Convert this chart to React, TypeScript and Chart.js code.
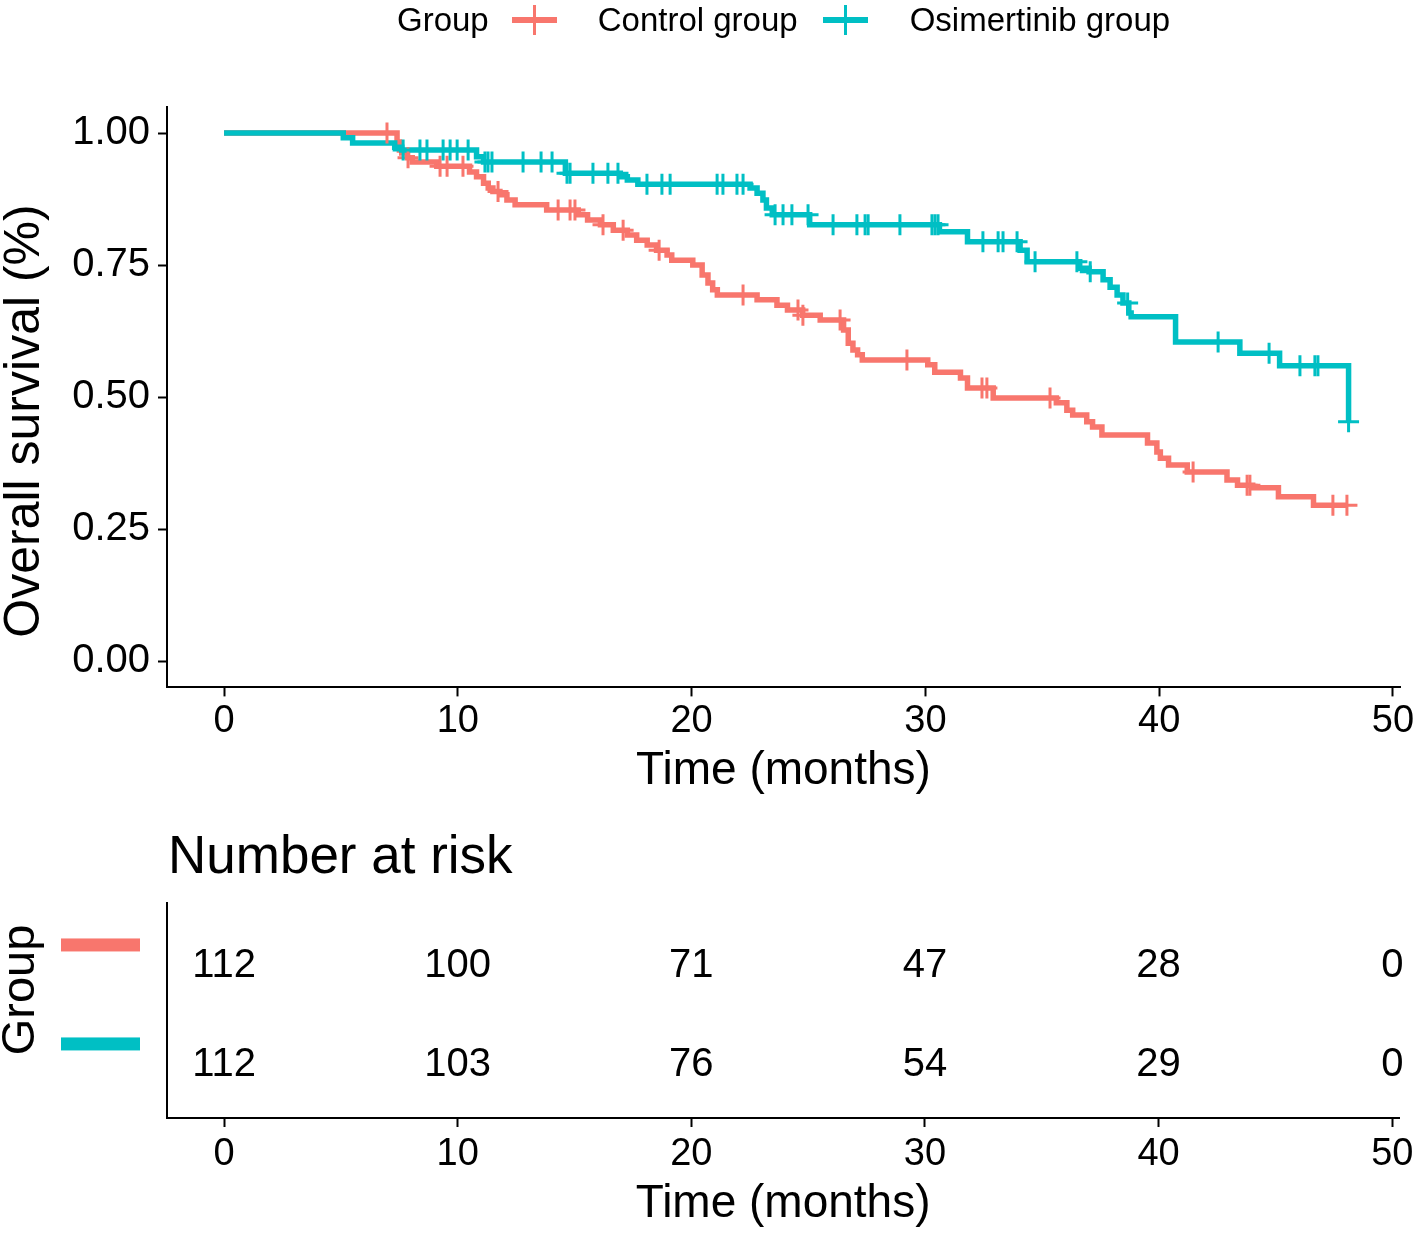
import React, { useEffect, useRef } from 'react';
import { Chart, registerables } from 'chart.js';

Chart.register(...registerables);

const FONT = "'Liberation Sans', Arial, Helvetica, sans-serif";

const GROUPS = ['Control group', 'Osimertinib group'];
const COLORS = ['#F8766D', '#00BFC4'];

// Control group: event times (months) and survival after each step
const CONTROL_T = [0, 7.4, 7.5, 7.6, 7.85, 8.05, 9.1, 10.5, 10.8, 11.1, 11.3, 11.5, 11.8, 12.1, 12.45, 13.8, 15.15, 15.55, 16.1, 16.65, 17.25, 17.65, 18.1, 18.5, 18.95, 19.15, 20.05, 20.45, 20.7, 20.9, 21.1, 22.8, 23.65, 24.1, 24.75, 25.5, 26.5, 26.7, 26.9, 27.1, 27.3, 30.1, 30.4, 31.5, 31.8, 32.9, 35.6, 36.05, 36.3, 36.9, 37.15, 37.55, 39.5, 39.9, 40.05, 40.4, 41.2, 42.9, 43.35, 44.0, 45.1, 46.6, 48.03];
const CONTROL_S = [1, 0.983, 0.968, 0.962, 0.953, 0.945, 0.937, 0.926, 0.917, 0.905, 0.896, 0.889, 0.883, 0.873, 0.864, 0.854, 0.845, 0.835, 0.826, 0.816, 0.807, 0.797, 0.788, 0.778, 0.769, 0.759, 0.75, 0.731, 0.716, 0.703, 0.693, 0.684, 0.674, 0.665, 0.655, 0.646, 0.627, 0.602, 0.589, 0.58, 0.57, 0.561, 0.547, 0.536, 0.517, 0.498, 0.489, 0.475, 0.466, 0.453, 0.443, 0.428, 0.413, 0.396, 0.384, 0.371, 0.358, 0.343, 0.333, 0.328, 0.311, 0.295, 0.295];
const CONTROL_CENSOR = [6.97, 7.87, 9.24, 9.54, 10.22, 11.72, 14.29, 14.8, 15.01, 16.21, 17.07, 18.61, 22.2, 24.55, 24.76, 26.35, 29.21, 32.42, 32.63, 35.33, 41.45, 43.76, 43.88, 47.43, 48.03];

// Osimertinib group
const OSI_T = [0, 5.1, 5.5, 7.3, 7.6, 10.8, 11.1, 14.6, 16.95, 17.25, 17.7, 22.5, 22.8, 23.05, 23.2, 23.45, 25.05, 30.6, 31.8, 34.05, 34.35, 36.6, 37.0, 37.6, 37.9, 38.2, 38.45, 38.7, 38.8, 40.7, 43.45, 45.15, 48.1];
const OSI_S = [1, 0.991, 0.981, 0.973, 0.968, 0.955, 0.945, 0.924, 0.917, 0.911, 0.903, 0.896, 0.886, 0.873, 0.858, 0.845, 0.826, 0.813, 0.794, 0.778, 0.756, 0.744, 0.737, 0.722, 0.708, 0.693, 0.678, 0.659, 0.652, 0.604, 0.583, 0.559, 0.453];
const OSI_CENSOR = [7.66, 8.38, 8.68, 9.37, 9.67, 9.97, 10.44, 11.16, 11.29, 11.46, 12.79, 13.56, 14.03, 14.67, 14.8, 15.78, 16.42, 16.85, 18.09, 18.73, 19.08, 21.09, 21.34, 21.94, 22.2, 23.57, 23.91, 24.29, 24.98, 26.05, 27.07, 27.42, 27.55, 28.91, 30.28, 30.41, 30.54, 32.46, 33.11, 33.32, 33.92, 34.69, 36.48, 37.05, 38.65, 42.52, 44.7, 46.02, 46.66, 46.79, 48.1];

const X_TICKS = [0, 10, 20, 30, 40, 50];
const Y_TICKS = [0, 0.25, 0.5, 0.75, 1];
const RISK_TIMES = [0, 10, 20, 30, 40, 50];
const RISK_CONTROL = [112, 100, 71, 47, 28, 0];
const RISK_OSI = [112, 103, 76, 54, 29, 0];

function survAt(ts: number[], ss: number[], t: number) {
  let s = ss[0];
  for (let i = 0; i < ts.length; i++) if (ts[i] <= t) s = ss[i];
  return s;
}

const axisGrid = (ticks: boolean) => ({
  display: true,
  drawOnChartArea: false,
  drawTicks: ticks,
  tickLength: 9,
  tickWidth: 2,
  tickColor: '#000',
  color: '#000',
});
const axisBorder = { display: true, color: '#000', width: 2 };

type TextItem = { text: string; x: number; y: number; size: number; rot?: number; align?: CanvasTextAlign };
const textPlugin = (id: string, items: TextItem[]) => ({
  id,
  afterDraw(chart: any) {
    const ctx = chart.ctx as CanvasRenderingContext2D;
    items.forEach((it) => {
      ctx.save();
      ctx.translate(it.x, it.y);
      ctx.rotate(it.rot || 0);
      ctx.font = `${it.size}px ${FONT}`;
      ctx.fillStyle = '#000';
      ctx.textAlign = it.align || 'center';
      ctx.textBaseline = 'middle';
      ctx.fillText(it.text, 0, 0);
      ctx.restore();
    });
  },
});

const riskPlugin = {
  id: 'riskLabels',
  afterDatasetsDraw(chart: any) {
    const ctx = chart.ctx as CanvasRenderingContext2D;
    ctx.save();
    ctx.font = `40px ${FONT}`;
    ctx.fillStyle = '#000';
    ctx.textAlign = 'center';
    ctx.textBaseline = 'middle';
    chart.data.datasets.forEach((ds: any, di: number) => {
      const meta = chart.getDatasetMeta(di);
      meta.data.forEach((el: any, i: number) => {
        ctx.fillText(String(ds.data[i].n), el.x, el.y);
      });
    });
    const ys = chart.scales.y;
    COLORS.forEach((c, i) => {
      const py = ys.getPixelForValue(i + 1) - 21;
      ctx.fillStyle = c;
      ctx.fillRect(61, py - 6.5, 79, 13);
    });
    ctx.restore();
  },
};

function LegendIcon({ color }: { color: string }) {
  return (
    <div style={{ position: 'relative', width: 45, height: 40 }}>
      <div style={{ position: 'absolute', left: 0, top: 17, width: 45, height: 6, background: color }} />
      <div style={{ position: 'absolute', left: 21, top: 5, width: 3, height: 30, background: color }} />
    </div>
  );
}

export default function App() {
  const kmRef = useRef<HTMLCanvasElement>(null);
  const riskRef = useRef<HTMLCanvasElement>(null);

  useEffect(() => {
    document.body.style.margin = '0';
    const km = new Chart(kmRef.current!, {
      type: 'line',
      data: {
        datasets: [
          {
            label: GROUPS[0],
            data: CONTROL_T.map((t, i) => ({ x: t, y: CONTROL_S[i] })),
            borderColor: COLORS[0],
            borderWidth: 5.5,
            stepped: true,
            pointRadius: 0,
            fill: false,
            order: 3,
            borderJoinStyle: 'miter',
          },
          {
            label: GROUPS[1],
            data: OSI_T.map((t, i) => ({ x: t, y: OSI_S[i] })),
            borderColor: COLORS[1],
            borderWidth: 5.5,
            stepped: true,
            pointRadius: 0,
            fill: false,
            order: 2,
            borderJoinStyle: 'miter',
          },
          {
            label: GROUPS[0] + ' censored',
            data: CONTROL_CENSOR.map((t) => ({ x: t, y: survAt(CONTROL_T, CONTROL_S, t) })),
            showLine: false,
            pointStyle: 'cross',
            pointRadius: 10.5,
            pointBorderWidth: 3,
            pointBorderColor: COLORS[0],
            borderColor: COLORS[0],
            order: 1,
          },
          {
            label: GROUPS[1] + ' censored',
            data: OSI_CENSOR.map((t) => ({ x: t, y: survAt(OSI_T, OSI_S, t) })),
            showLine: false,
            pointStyle: 'cross',
            pointRadius: 10.5,
            pointBorderWidth: 3,
            pointBorderColor: COLORS[1],
            borderColor: COLORS[1],
            order: 0,
          },
        ],
      },
      options: {
        animation: false,
        responsive: false,
        events: [],
        layout: { padding: { left: 0, right: 18, top: 106.6, bottom: 0 } },
        plugins: { legend: { display: false }, tooltip: { enabled: false } },
        scales: {
          x: {
            type: 'linear',
            min: -2.44,
            max: 50.3,
            afterBuildTicks: (s: any) => {
              s.ticks = X_TICKS.map((v) => ({ value: v }));
            },
            afterFit: (s: any) => {
              s.height = 112.6;
            },
            ticks: {
              font: { family: FONT, size: 38 },
              color: '#000',
              padding: 2,
              maxRotation: 0,
              autoSkip: false,
              callback: (v: any) => String(v),
            },
            grid: axisGrid(true),
            border: axisBorder,
            title: {
              display: true,
              text: 'Time (months)',
              font: { family: FONT, size: 46 },
              color: '#000',
              padding: { top: 0, bottom: 1 },
            },
          },
          y: {
            type: 'linear',
            min: -0.05,
            max: 1.05,
            afterBuildTicks: (s: any) => {
              s.ticks = Y_TICKS.map((v) => ({ value: v }));
            },
            afterFit: (s: any) => {
              s.width = 167;
            },
            ticks: {
              font: { family: FONT, size: 40 },
              color: '#000',
              padding: 8,
              callback: (v: any) => Number(v).toFixed(2),
            },
            grid: axisGrid(true),
            border: axisBorder,
          },
        },
      },
      plugins: [textPlugin('kmTitles', [{ text: 'Overall survival (%)', x: 25, y: 421, size: 50, rot: -Math.PI / 2 }])],
    } as any);

    const risk = new Chart(riskRef.current!, {
      type: 'scatter',
      data: {
        datasets: [
          {
            label: GROUPS[0],
            data: RISK_TIMES.map((t, i) => ({ x: t, y: 1, n: RISK_CONTROL[i] })),
            pointRadius: 0,
          },
          {
            label: GROUPS[1],
            data: RISK_TIMES.map((t, i) => ({ x: t, y: 2, n: RISK_OSI[i] })),
            pointRadius: 0,
          },
        ],
      },
      options: {
        animation: false,
        responsive: false,
        events: [],
        layout: { padding: { left: 0, right: 18, top: 103, bottom: 0 } },
        plugins: { legend: { display: false }, tooltip: { enabled: false } },
        scales: {
          x: {
            type: 'linear',
            min: -2.44,
            max: 50.3,
            afterBuildTicks: (s: any) => {
              s.ticks = X_TICKS.map((v) => ({ value: v }));
            },
            afterFit: (s: any) => {
              s.height = 115;
            },
            ticks: {
              font: { family: FONT, size: 38 },
              color: '#000',
              padding: 4.5,
              maxRotation: 0,
              autoSkip: false,
              callback: (v: any) => String(v),
            },
            grid: axisGrid(true),
            border: axisBorder,
            title: {
              display: true,
              text: 'Time (months)',
              font: { family: FONT, size: 46 },
              color: '#000',
              padding: { top: 0, bottom: 1 },
            },
          },
          y: {
            type: 'linear',
            min: 0.364,
            max: 2.536,
            reverse: true,
            afterBuildTicks: (s: any) => {
              s.ticks = [{ value: 1 }, { value: 2 }];
            },
            afterFit: (s: any) => {
              s.width = 167;
            },
            ticks: { display: false },
            grid: axisGrid(false),
            border: axisBorder,
          },
        },
      },
      plugins: [
        riskPlugin,
        textPlugin('riskTitles', [
          { text: 'Number at risk', x: 168, y: 58, size: 53, align: 'left' },
          { text: 'Group', x: 21.5, y: 190, size: 47, rot: -Math.PI / 2 },
        ]),
      ],
    } as any);

    return () => {
      km.destroy();
      risk.destroy();
    };
  }, []);

  return (
    <div style={{ position: 'relative', width: 1418, height: 1233, background: '#fff', overflow: 'hidden', fontFamily: FONT }}>
      <canvas ref={kmRef} width={1418} height={800} style={{ position: 'absolute', left: 0, top: 0, display: 'block' }} />
      <canvas ref={riskRef} width={1418} height={433} style={{ position: 'absolute', left: 0, top: 800, display: 'block' }} />
      <div
        style={{
          position: 'absolute',
          left: 397,
          top: 0,
          height: 40,
          display: 'flex',
          alignItems: 'center',
          fontSize: 33,
          color: '#000',
          whiteSpace: 'nowrap',
        }}
      >
        <span>Group</span>
        <div style={{ marginLeft: 23 }}>
          <LegendIcon color={COLORS[0]} />
        </div>
        <span style={{ marginLeft: 41 }}>{GROUPS[0]}</span>
        <div style={{ marginLeft: 25 }}>
          <LegendIcon color={COLORS[1]} />
        </div>
        <span style={{ marginLeft: 42 }}>{GROUPS[1]}</span>
      </div>
    </div>
  );
}
